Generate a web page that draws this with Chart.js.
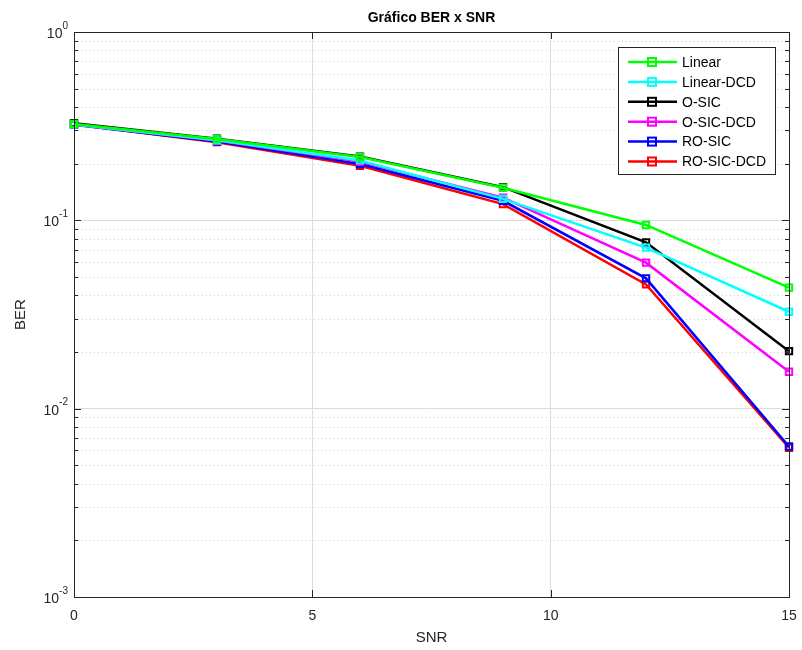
<!DOCTYPE html>
<html>
<head>
<meta charset="utf-8">
<script src="https://cdn.jsdelivr.net/npm/chart.js@4/dist/chart.umd.min.js"></script>
<style>
  html, body { margin: 0; padding: 0; background: #fff; }
  #wrap { width: 802px; height: 650px; position: relative; }
</style>
</head>
<body>
<div id="wrap"><canvas id="berChart" width="802" height="650"></canvas></div>
<script>
// --- data ---
const snr = [0, 3, 6, 9, 12, 15];
const linear    = [0.325, 0.270, 0.217, 0.149, 0.0945, 0.0439];
const linearDcd = [0.323, 0.266, 0.208, 0.130, 0.0716, 0.0327];
const oSic      = [0.328, 0.271, 0.218, 0.150, 0.0764, 0.0202];
const oSicDcd   = [0.323, 0.265, 0.205, 0.132, 0.0596, 0.0157];
const roSic     = [0.322, 0.262, 0.199, 0.127, 0.0492, 0.0063];
const roSicDcd  = [0.324, 0.260, 0.195, 0.122, 0.0457, 0.0062];

const seriesNames = ['Linear', 'Linear-DCD', 'O-SIC', 'O-SIC-DCD', 'RO-SIC', 'RO-SIC-DCD'];
const seriesColors = ['#00ff00', '#00ffff', '#000000', '#ff00ff', '#0000ff', '#ff0000'];
const seriesValues = [linear, linearDcd, oSic, oSicDcd, roSic, roSicDcd];

const xTicks = [0, 5, 10, 15];
const yTickValues = [1, 0.1, 0.01, 0.001];
const yTickExponents = ['0', '-1', '-2', '-3'];

const axisColor = '#262626';
const fontFam = '"Liberation Sans", Arial, sans-serif';

const datasets = seriesNames.map(function(name, i) {
    return {
        label: name,
        data: snr.map((x, j) => ({ x: x, y: seriesValues[i][j] })),
        borderColor: seriesColors[i],
        backgroundColor: 'rgba(0,0,0,0)',
        borderWidth: 2.5,
        pointStyle: 'rect',
        pointRadius: 4.5,
        pointBorderWidth: 2,
        pointBackgroundColor: 'rgba(0,0,0,0)',
        pointBorderColor: seriesColors[i],
        tension: 0,
        clip: false
    };
});

// minor grid, inner ticks, box, y labels, titles, legend
const matlabLook = {
    id: 'matlabLook',
    beforeDatasetsDraw(chart) {
        const ctx = chart.ctx, a = chart.chartArea;
        const ys = chart.scales.y;
        ctx.save();
        ctx.strokeStyle = '#cccccc';
        ctx.lineWidth = 1;
        ctx.setLineDash([1, 3]);
        for (let e = -3; e < 0; e++) {
            for (let m = 2; m <= 9; m++) {
                const py = Math.round(ys.getPixelForValue(m * Math.pow(10, e))) + 0.5;
                ctx.beginPath();
                ctx.moveTo(a.left, py);
                ctx.lineTo(a.right, py);
                ctx.stroke();
            }
        }
        ctx.restore();
    },
    afterDraw(chart) {
        const ctx = chart.ctx, a = chart.chartArea;
        const xs = chart.scales.x, ys = chart.scales.y;
        ctx.save();
        ctx.strokeStyle = axisColor;
        ctx.lineWidth = 1;
        ctx.setLineDash([]);
        // box
        ctx.strokeRect(Math.round(a.left) + 0.5, Math.round(a.top) + 0.5,
            Math.round(a.right - a.left), Math.round(a.bottom - a.top));
        // y ticks (major & minor) on both sides
        for (let e = -3; e <= 0; e++) {
            for (let m = 1; m <= 9; m++) {
                const v = m * Math.pow(10, e);
                if (v > 1) break;
                const py = Math.round(ys.getPixelForValue(v)) + 0.5;
                const len = (m === 1) ? 7 : 4;
                ctx.beginPath();
                ctx.moveTo(a.left, py); ctx.lineTo(a.left + len, py);
                ctx.moveTo(a.right, py); ctx.lineTo(a.right - len, py);
                ctx.stroke();
            }
        }
        // x ticks top & bottom
        xTicks.forEach(function(v) {
            const px = Math.round(xs.getPixelForValue(v)) + 0.5;
            ctx.beginPath();
            ctx.moveTo(px, a.bottom); ctx.lineTo(px, a.bottom - 7);
            ctx.moveTo(px, a.top); ctx.lineTo(px, a.top + 7);
            ctx.stroke();
        });
        // y tick labels 10^k
        ctx.fillStyle = axisColor;
        yTickValues.forEach(function(v, i) {
            const py = ys.getPixelForValue(v);
            ctx.font = '10px ' + fontFam;
            ctx.textAlign = 'right';
            ctx.textBaseline = 'middle';
            const ew = ctx.measureText(yTickExponents[i]).width;
            ctx.fillText(yTickExponents[i], 68, py - 6);
            ctx.font = '14px ' + fontFam;
            ctx.fillText('10', 68 - ew, py + 2);
        });
        // title and axis titles
        ctx.textAlign = 'center';
        ctx.textBaseline = 'middle';
        ctx.font = 'bold 14px ' + fontFam;
        ctx.fillStyle = '#000';
        ctx.fillText('Gráfico BER x SNR', (a.left + a.right) / 2, 18);
        ctx.fillStyle = axisColor;
        ctx.font = '15px ' + fontFam;
        ctx.fillText('SNR', (a.left + a.right) / 2, 638);
        ctx.save();
        ctx.translate(21, (a.top + a.bottom) / 2);
        ctx.rotate(-Math.PI / 2);
        ctx.fillText('BER', 0, 0);
        ctx.restore();
        // legend box
        const lx = 618, ly = 47, lw = 157, lh = 127;
        ctx.fillStyle = '#fff';
        ctx.fillRect(lx, ly, lw, lh);
        ctx.strokeStyle = axisColor;
        ctx.lineWidth = 1;
        ctx.strokeRect(lx + 0.5, ly + 0.5, lw, lh);
        chart.data.datasets.forEach(function(ds, i) {
            const ry = 62 + i * 19.9;
            ctx.strokeStyle = ds.borderColor;
            ctx.lineWidth = 2.5;
            ctx.beginPath();
            ctx.moveTo(628, ry); ctx.lineTo(677, ry);
            ctx.stroke();
            ctx.lineWidth = 2;
            ctx.strokeRect(648, ry - 4, 8, 8);
            ctx.fillStyle = '#000';
            ctx.font = '14px ' + fontFam;
            ctx.textAlign = 'left';
            ctx.textBaseline = 'middle';
            ctx.fillText(ds.label, 682, ry + 1);
        });
        ctx.restore();
    }
};

new Chart(document.getElementById('berChart').getContext('2d'), {
    type: 'line',
    data: { datasets: datasets },
    options: {
        responsive: false,
        animation: false,
        layout: { padding: { top: 32, right: 13, left: 0, bottom: 0 } },
        plugins: {
            legend: { display: false },
            title: { display: false },
            tooltip: { enabled: false }
        },
        scales: {
            x: {
                type: 'linear',
                min: 0, max: 15,
                afterFit: function(s) { s.height = 53; s.paddingLeft = 0; s.paddingRight = 0; },
                afterBuildTicks: function(s) { s.ticks = xTicks.map(v => ({ value: v })); },
                ticks: { color: axisColor, font: { size: 14, family: fontFam }, padding: 11, maxRotation: 0 },
                grid: {
                    drawTicks: false,
                    color: function(c) { return (c.tick && (c.tick.value === 5 || c.tick.value === 10)) ? '#dcdcdc' : 'rgba(0,0,0,0)'; }
                },
                border: { display: false }
            },
            y: {
                type: 'logarithmic',
                min: 0.001, max: 1,
                afterFit: function(s) { s.width = 74; s.paddingTop = 0; s.paddingBottom = 0; },
                ticks: { display: false },
                grid: {
                    drawTicks: false,
                    color: function(c) {
                        if (!c.tick) return 'rgba(0,0,0,0)';
                        const l = Math.log10(c.tick.value);
                        return (Math.abs(l - Math.round(l)) < 1e-6 && l < -0.5 && l > -2.5) ? '#dcdcdc' : 'rgba(0,0,0,0)';
                    }
                },
                border: { display: false }
            }
        }
    },
    plugins: [matlabLook]
});
</script>
</body>
</html>
